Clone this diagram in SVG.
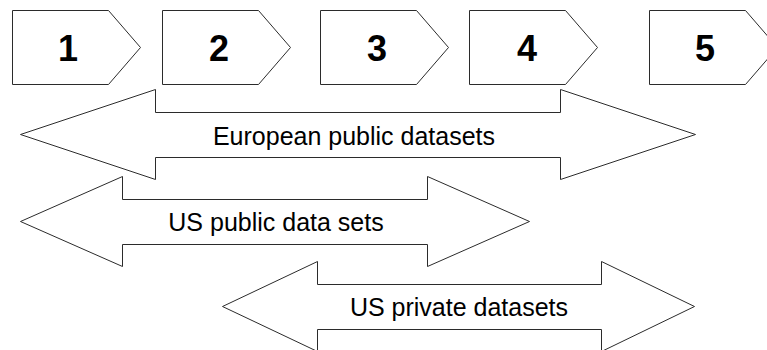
<svg xmlns="http://www.w3.org/2000/svg" width="767" height="350" viewBox="0 0 767 350">
  <style>
    .shape { fill: #ffffff; stroke: #2b2b2b; stroke-width: 1; stroke-linejoin: miter; }
    .num { font-family: "Liberation Sans", Arial, sans-serif; font-weight: bold; font-size: 36px; fill: #000; text-anchor: middle; }
    .lbl { font-family: "Liberation Sans", Arial, sans-serif; font-size: 25px; fill: #000; text-anchor: middle; }
  </style>
  <rect width="767" height="350" fill="#ffffff"/>
  <g id="step1">
    <path class="shape" d="M12.5,10.5 H108.5 L140.5,47.5 L108.5,84.5 H12.5 Z"/>
    <text class="num" x="68" y="61">1</text>
  </g>
  <g id="step2">
    <path class="shape" d="M162.5,10.5 H258.5 L290.5,47.5 L258.5,84.5 H162.5 Z"/>
    <text class="num" x="219" y="61">2</text>
  </g>
  <g id="step3">
    <path class="shape" d="M320.5,10.5 H416.5 L448.5,47.5 L416.5,84.5 H320.5 Z"/>
    <text class="num" x="377" y="61">3</text>
  </g>
  <g id="step4">
    <path class="shape" d="M469.5,10.5 H565.5 L597.5,47.5 L565.5,84.5 H469.5 Z"/>
    <text class="num" x="527" y="61">4</text>
  </g>
  <g id="step5">
    <path class="shape" d="M649.5,10.5 H745.5 L777.5,47.5 L745.5,84.5 H649.5 Z"/>
    <text class="num" x="705" y="61">5</text>
  </g>
  <g id="european-public-datasets">
    <path class="shape" d="M20.5,134.5 L155.5,89.5 V112.5 H560.5 V89.5 L695.5,134.5 L560.5,179.5 V157.5 H155.5 V179.5 Z"/>
    <text class="lbl" x="354" y="145">European public datasets</text>
  </g>
  <g id="us-public-data-sets">
    <path class="shape" d="M20.5,221.5 L122.5,176.5 V199.5 H427.5 V176.5 L529.5,221.5 L427.5,266.5 V244.5 H122.5 V266.5 Z"/>
    <text class="lbl" x="276" y="231">US public data sets</text>
  </g>
  <g id="us-private-datasets">
    <path class="shape" d="M222.5,306.5 L317.5,261.5 V284.5 H601.5 V261.5 L694.5,306.5 L601.5,351.5 V329.5 H317.5 V351.5 Z"/>
    <text class="lbl" x="459" y="316">US private datasets</text>
  </g>
  <g id="connectors"></g>
</svg>
